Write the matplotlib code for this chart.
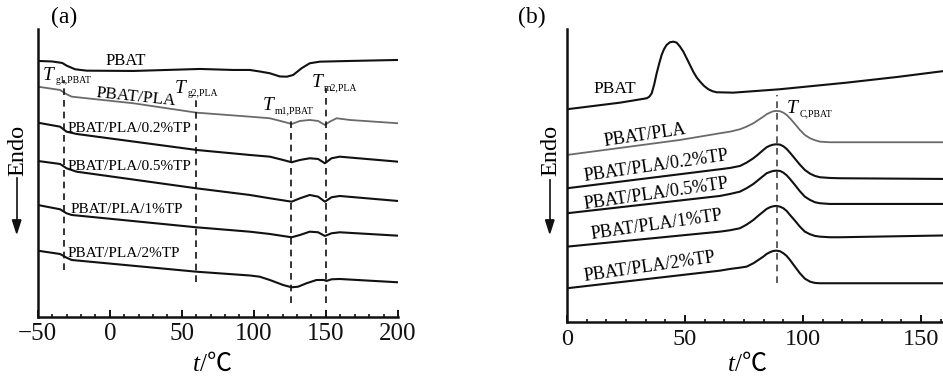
import matplotlib
matplotlib.use('Agg')
import matplotlib.pyplot as plt
from matplotlib.ticker import MultipleLocator

plt.rcParams['font.family'] = ['Liberation Serif', 'Noto Sans CJK SC']

# ---- (a) heating curves: temperature (°C) and heat flow (a.u.) ----
a_pbat_t = [-50, -40, -33, -29.9, -24.1, -16, 16.3, 62.6, 85.7, 97.2, 104, 111.1, 118, 123, 127.3, 133.1, 138.8, 145.8, 166.6, 200]
a_pbat_h = [256, 255.5, 254, 251.3, 247.7, 246.3, 246, 248, 247, 247, 245.5, 243.7, 240.5, 240.3, 242, 248.7, 253.7, 255.3, 256, 257]

a_blend_t = [-50, -34.5, -29.9, -26.4, 16.3, 60.3, 97.2, 111.1, 120.3, 126.2, 132, 138.8, 144.6, 149.3, 152.7, 157.4, 166.6, 200]
a_blend_h = [230.3, 227, 222.7, 220.3, 213.7, 204.3, 200.3, 198.7, 195.3, 193, 196, 197, 196, 192, 195.3, 198.7, 197, 193.7]

a_tp02_t = [-50, -34.5, -30, -23, 60.3, 97.2, 111.1, 120.3, 126.2, 132, 138.8, 144.6, 149.3, 153.9, 159.6, 200]
a_tp02_h = [194.3, 190.3, 185.3, 183, 167, 162, 160.3, 157, 154.7, 157, 158.7, 158, 153.7, 158.7, 160.3, 155.3]

a_tp05_t = [-50, -34.5, -30, -23, 60, 97.2, 111.1, 126.2, 132, 138.8, 144.6, 149.3, 153.9, 159.6, 200]
a_tp05_h = [156, 153, 148.7, 145.3, 128.7, 122, 118.7, 115.3, 118.7, 122, 120.3, 115.3, 119.7, 121, 116]

a_tp1_t = [-50, -34.5, -30, -26.4, 60, 97.2, 111.1, 126.2, 132, 138.8, 144.6, 149.3, 153.9, 159.6, 200]
a_tp1_h = [112, 107.7, 103.7, 102, 89.7, 85.3, 83, 79.7, 82, 85.3, 84.7, 81, 83.7, 84.7, 81.3]

a_tp2_t = [-50, -34.5, -30, -26.4, 60, 97.2, 104, 111.1, 120.3, 126.2, 130.7, 136.5, 143.5, 148.6, 150.4, 153.9, 159.6, 200]
a_tp2_h = [66.3, 63, 59.3, 57, 45.3, 41.5, 40.3, 37, 32, 29.7, 30.3, 33.7, 37, 37, 36, 37.7, 38, 34.7]

# transition temperatures and dashed-line extents (a)
a_marks_t = [-32, 60, 126, 150]
a_marks_lo = [47, 35.3, 14, 14]
a_marks_hi = [237, 217, 200, 229]

# ---- (b) cooling curves ----
b_pbat_t = [0, 22.5, 33.8, 34.9, 35.9, 36.9, 38.0, 39.1, 40.1, 41.1, 42.2, 43.6, 45.1, 46.5, 47.9, 49.3,
            50.7, 52.1, 53.5, 54.9, 56.4, 58.1, 59.9, 61.7, 63.4, 70.5, 90.2, 118.5, 140, 160]
b_pbat_h = [212.7, 219.3, 223.7, 225.3, 228.7, 237, 248.7, 258.7, 267, 272.7, 277, 279.7, 280.3, 279.3, 275.3, 270.3,
            263.7, 257, 250.3, 244.7, 240.3, 236, 232.7, 230.7, 229.7, 229.3, 232.7, 239.3, 245, 251]

# common temperature grid read around the crystallisation peak
b_peak_t = [64.8, 69.1, 73.3, 76.1, 79.0, 81.1, 83.2, 84.6, 86.0, 87.4, 88.8, 90.3, 91.7, 93.1, 94.5,
            96.6, 98.7, 100.8, 103.0, 105.1, 107.2, 111.4, 115.7]

b_blend_t = [0, 47.9] + b_peak_t + [160]
b_blend_h = [167, 182, 188.7, 190.3, 192.7, 195.3, 198.7, 202, 205.3, 207.7, 209.3, 210.7, 211, 210.7, 209.3, 207, 203.7,
             198, 192, 187, 183.7, 181.7, 180.3, 179.7, 179.7, 179.7]

b_tp_t = [0] + b_peak_t + [160]
b_tp02_h = [133.7, 152.7, 154, 156, 159.3, 163.7, 167.7, 172, 174.7, 176.3, 177.3, 177.7, 177.3, 175.7, 173, 169.3,
            163.3, 157.3, 152, 148.3, 146, 144.7, 144, 143.7, 143]
b_tp05_h = [108.7, 126, 128, 130.3, 133.7, 138, 142, 146, 148.7, 150, 151, 151.3, 151, 149.3, 146.7, 143,
            137, 130.7, 125.3, 122, 119.7, 118.7, 118, 118, 118]
b_tp1_h = [75.3, 90.3, 91.7, 93.7, 97.3, 102, 106.3, 110.3, 113, 114.7, 115.7, 116, 115.3, 113.7, 111, 107,
           101.3, 95.3, 90.3, 87.7, 86, 85.3, 84.7, 84.7, 86.5]
b_tp2_h = [33.7, 51.3, 53, 54.3, 55.3, 58.7, 62, 65.3, 68, 69.7, 71, 71.3, 70.7, 68.7, 66, 62,
           55.3, 48.7, 43.3, 40.3, 39, 38.7, 38.7, 38.7, 38.7]

b_mark_t = 88.8

labels = ['PBAT', 'PBAT/PLA', 'PBAT/PLA/0.2%TP', 'PBAT/PLA/0.5%TP', 'PBAT/PLA/1%TP', 'PBAT/PLA/2%TP']

BLACK = '#111111'
GREY = '#6a6a6a'


def t_label(ax, x, y, sub):
    ax.text(x, y, 'T', fontsize=14, style='italic', ha='left', va='baseline')
    ax.annotate(sub, xy=(x, y), xytext=(9, -2.5), textcoords='offset points',
                fontsize=7, ha='left', va='baseline')


def style_axes(ax):
    for s in ['top', 'right']:
        ax.spines[s].set_visible(False)
    for s in ['left', 'bottom']:
        ax.spines[s].set_linewidth(1.8)
        ax.spines[s].set_color(BLACK)
    ax.set_yticks([])
    ax.tick_params(axis='x', which='major', direction='in', length=5, width=1.4,
                   labelsize=18, pad=4, colors=BLACK)
    ax.tick_params(axis='x', which='minor', direction='in', length=2.5, width=1.2, colors=BLACK)


fig = plt.figure(figsize=(9.43, 3.81), dpi=100)

# ---------------- panel (a) ----------------
ax1 = fig.add_axes([0.040, 0.168, 0.382, 0.756])
ax1.plot(a_pbat_t, a_pbat_h, color=BLACK, lw=1.5)
ax1.plot(a_blend_t, a_blend_h, color=GREY, lw=1.3)
ax1.plot(a_tp02_t, a_tp02_h, color=BLACK, lw=1.5)
ax1.plot(a_tp05_t, a_tp05_h, color=BLACK, lw=1.5)
ax1.plot(a_tp1_t, a_tp1_h, color=BLACK, lw=1.5)
ax1.plot(a_tp2_t, a_tp2_h, color=BLACK, lw=1.5)
for t, lo, hi in zip(a_marks_t, a_marks_lo, a_marks_hi):
    ax1.plot([t, t], [lo, hi], color=BLACK, lw=1.2, dashes=(4, 3))

ax1.set_xlim(-50, 200)
ax1.set_ylim(0, 288)
ax1.xaxis.set_major_locator(MultipleLocator(50))
ax1.xaxis.set_minor_locator(MultipleLocator(10))
style_axes(ax1)

ax1.text(11.2, 252, labels[0], fontsize=12, ha='center', va='baseline')
ax1.text(18.2, 220, labels[1], fontsize=12.5, ha='center', va='center', rotation=-6)
ax1.text(-29, 185.3, labels[2], fontsize=11, ha='left', va='baseline')
ax1.text(-29, 147, labels[3], fontsize=11, ha='left', va='baseline')
ax1.text(-27.5, 104, labels[4], fontsize=11, ha='left', va='baseline')
ax1.text(-29, 60.3, labels[5], fontsize=11, ha='left', va='baseline')

t_label(ax1, -46.3, 237, 'g1,PBAT')
t_label(ax1, 45.2, 224, 'g2,PLA')
t_label(ax1, 106.2, 207, 'm1,PBAT')
t_label(ax1, 140.2, 229.7, 'm2,PLA')

# ---------------- panel (b) ----------------
ax2 = fig.add_axes([0.6013, 0.155, 0.4003, 0.769])
ax2.plot(b_pbat_t, b_pbat_h, color=BLACK, lw=1.5)
ax2.plot(b_blend_t, b_blend_h, color=GREY, lw=1.3)
ax2.plot(b_tp_t, b_tp02_h, color=BLACK, lw=1.5)
ax2.plot(b_tp_t, b_tp05_h, color=BLACK, lw=1.5)
ax2.plot(b_tp_t, b_tp1_h, color=BLACK, lw=1.5)
ax2.plot(b_tp_t, b_tp2_h, color=BLACK, lw=1.5)
ax2.plot([b_mark_t, b_mark_t], [38.7, 227], color='#444444', lw=1.2, dashes=(4, 3))

ax2.set_xlim(0, 160)
ax2.set_ylim(0, 293)
ax2.xaxis.set_major_locator(MultipleLocator(50))
ax2.xaxis.set_minor_locator(MultipleLocator(50 / 6))
style_axes(ax2)
ax2.tick_params(axis='x', which='major', labelsize=17.5, pad=5)

ax2.text(20.3, 233, labels[0], fontsize=12.5, ha='center', va='center')
ax2.text(33, 187, labels[1], fontsize=13, ha='center', va='center', rotation=8.5)
ax2.text(37.7, 156, labels[2], fontsize=13, ha='center', va='center', rotation=8.3)
ax2.text(37.7, 128, labels[3], fontsize=13, ha='center', va='center', rotation=8.3)
ax2.text(38.1, 97, labels[4], fontsize=13, ha='center', va='center', rotation=8.3)
ax2.text(35.2, 55, labels[5], fontsize=13, ha='center', va='center', rotation=8.3)

t_label(ax2, 93.1, 208.7, 'C,PBAT')

# ---------------- figure texts ----------------
fig.text(0.068, 0.955, '(a)', fontsize=17, ha='center', va='center')
fig.text(0.564, 0.955, '(b)', fontsize=17, ha='center', va='center')

for x_txt, x_arr, y_top in [(0.0186, 0.0177, 0.533), (0.584, 0.583, 0.527)]:
    fig.text(x_txt, 0.604, 'Endo', fontsize=17.5, rotation=90, ha='center', va='center')
    fig.add_artist(plt.Line2D([x_arr, x_arr], [y_top, 0.40], color=BLACK, lw=1.2))
    fig.patches.append(matplotlib.patches.FancyArrow(
        x_arr, 0.41, 0, -0.022, width=0.0, head_width=0.009, head_length=0.035,
        length_includes_head=True, color=BLACK, transform=fig.transFigure, figure=fig))

# axis titles: italic t followed by /℃
for x_split in [0.212, 0.779]:
    fig.text(x_split, 0.042, 't', fontsize=18, style='italic', ha='right', va='center')
    fig.text(x_split, 0.042, '/℃', fontsize=18, ha='left', va='center',
             family=['Liberation Serif', 'Noto Sans CJK SC'])

fig.savefig('out.png', dpi=100)
